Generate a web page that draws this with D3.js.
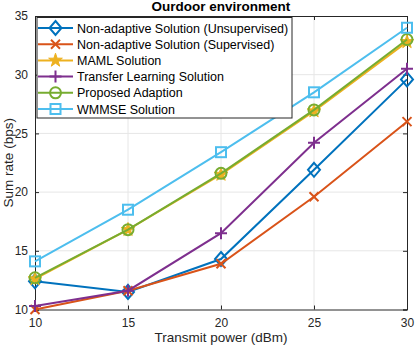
<!DOCTYPE html>
<html>
<head>
<meta charset="utf-8">
<script src="https://cdn.jsdelivr.net/npm/d3@7"></script>
<style>
  body { margin: 0; background: #fff; }
  svg { display: block; font-family: "Liberation Sans", Arial, sans-serif; }
</style>
</head>
<body>
<svg id="chart"></svg>
<script>
var powers = [10, 15, 20, 25, 30];
var xTicks = [10, 15, 20, 25, 30];
var yTicks = [10, 15, 20, 25, 30, 35];

var unsupervised = [12.4, 11.5, 14.3, 21.9, 29.6];
var supervised = [10.0, 11.6, 13.9, 19.6, 26.0];
var maml = [12.6, 16.8, 21.5, 26.9, 32.8];
var transfer = [10.3, 11.6, 16.5, 24.2, 30.5];
var proposed = [12.7, 16.8, 21.6, 27.0, 33.0];
var wmmse = [14.1, 18.5, 23.4, 28.5, 34.0];

var seriesNames = ["Non-adaptive Solution (Unsupervised)", "Non-adaptive Solution (Supervised)",
    "MAML Solution", "Transfer Learning Solution", "Proposed Adaption", "WMMSE Solution"];
var seriesValues = [unsupervised, supervised, maml, transfer, proposed, wmmse];
var seriesColors = ["#0072BD", "#D95319", "#EDB120", "#7E2F8E", "#77AC30", "#4DBEEE"];
var seriesMarkers = ["diamond", "cross", "star", "plus", "circle", "square"];

var width = 415, height = 348;
var plotLeft = 35, plotRight = 407, plotTop = 16, plotBottom = 309.5;

var svg = d3.select("#chart").attr("width", width).attr("height", height);

var x = d3.scaleLinear().domain([10, 30]).range([plotLeft, plotRight]);
var y = d3.scaleLinear().domain([10, 35]).range([plotBottom, plotTop]);

// grid
svg.append("g").selectAll("line").data(xTicks.slice(1, -1)).enter().append("line")
    .attr("x1", function(d) { return x(d); }).attr("x2", function(d) { return x(d); })
    .attr("y1", plotTop).attr("y2", plotBottom)
    .attr("stroke", "#e6e6e6").attr("stroke-width", 1);
svg.append("g").selectAll("line").data(yTicks.slice(1, -1)).enter().append("line")
    .attr("y1", function(d) { return y(d); }).attr("y2", function(d) { return y(d); })
    .attr("x1", plotLeft).attr("x2", plotRight)
    .attr("stroke", "#e6e6e6").attr("stroke-width", 1);

// axes with inward ticks
var axisColor = "#262626";
var xAxis = svg.append("g").attr("transform", "translate(0," + plotBottom + ")")
    .call(d3.axisBottom(x).tickValues(xTicks).tickSize(-4).tickPadding(9));
var yAxis = svg.append("g").attr("transform", "translate(" + plotLeft + ",0)")
    .call(d3.axisLeft(y).tickValues(yTicks).tickSize(-4).tickPadding(7));
var xTop = svg.append("g").attr("transform", "translate(0," + plotTop + ")")
    .call(d3.axisTop(x).tickValues(xTicks).tickSize(-4).tickFormat(""));
var yRight = svg.append("g").attr("transform", "translate(" + plotRight + ",0)")
    .call(d3.axisRight(y).tickValues(yTicks).tickSize(-4).tickFormat(""));
[xAxis, yAxis, xTop, yRight].forEach(function(a) {
    a.select(".domain").attr("stroke", axisColor).attr("stroke-width", 1);
    a.selectAll(".tick line").attr("stroke", axisColor);
    a.selectAll("text").attr("fill", axisColor).style("font-size", "12px")
        .style("font-family", "'Liberation Sans', Arial, sans-serif");
});

// labels
svg.append("text").attr("x", (plotLeft + plotRight) / 2).attr("y", 11)
    .attr("text-anchor", "middle").style("font-weight", "bold").style("font-size", "13.5px")
    .attr("fill", "#000").text("Ourdoor environment");
svg.append("text").attr("x", (plotLeft + plotRight) / 2).attr("y", 342)
    .attr("text-anchor", "middle").style("font-size", "13.5px").attr("fill", axisColor)
    .text("Transmit power (dBm)");
svg.append("text").attr("transform", "translate(13," + (plotTop + plotBottom) / 2 + ") rotate(-90)")
    .attr("text-anchor", "middle").style("font-size", "13.5px").attr("fill", axisColor)
    .text("Sum rate (bps)");

function drawMarker(g, type, color) {
    if (type === "diamond") {
        g.append("path").attr("d", "M0,-7L6,0L0,7L-6,0Z")
            .attr("fill", "none").attr("stroke", color).attr("stroke-width", 2);
    } else if (type === "cross") {
        g.append("path").attr("d", "M-4.5,-4.5L4.5,4.5M-4.5,4.5L4.5,-4.5")
            .attr("stroke", color).attr("stroke-width", 2);
    } else if (type === "star") {
        g.append("path").attr("d", d3.symbol().type(d3.symbolStar).size(58)())
            .attr("fill", color).attr("stroke", color).attr("stroke-width", 1);
    } else if (type === "plus") {
        g.append("path").attr("d", "M-6,0L6,0M0,-6L0,6")
            .attr("stroke", color).attr("stroke-width", 2);
    } else if (type === "circle") {
        g.append("circle").attr("r", 5.5)
            .attr("fill", "none").attr("stroke", color).attr("stroke-width", 2);
    } else if (type === "square") {
        g.append("rect").attr("x", -5).attr("y", -5).attr("width", 10).attr("height", 10)
            .attr("fill", "none").attr("stroke", color).attr("stroke-width", 2);
    }
}

var line = d3.line()
    .x(function(d, i) { return x(powers[i]); })
    .y(function(d) { return y(d); });

seriesValues.forEach(function(vals, s) {
    var g = svg.append("g");
    g.append("path").datum(vals).attr("d", line)
        .attr("fill", "none").attr("stroke", seriesColors[s]).attr("stroke-width", 2);
    vals.forEach(function(v, i) {
        var m = g.append("g").attr("transform", "translate(" + x(powers[i]) + "," + y(v) + ")");
        drawMarker(m, seriesMarkers[s], seriesColors[s]);
    });
});

// legend
var legend = svg.append("g");
legend.append("rect").attr("x", 37).attr("y", 17.5).attr("width", 255).attr("height", 100.5)
    .attr("fill", "#fff").attr("stroke", axisColor).attr("stroke-width", 1);
seriesNames.forEach(function(name, s) {
    var ly = 28 + s * 16.2;
    legend.append("line").attr("x1", 38).attr("x2", 73).attr("y1", ly).attr("y2", ly)
        .attr("stroke", seriesColors[s]).attr("stroke-width", 2);
    var m = legend.append("g").attr("transform", "translate(55.5," + ly + ")");
    drawMarker(m, seriesMarkers[s], seriesColors[s]);
    legend.append("text").attr("x", 77).attr("y", ly + 4.5)
        .style("font-size", "12.5px").attr("fill", "#000").text(name);
});
</script>
</body>
</html>
